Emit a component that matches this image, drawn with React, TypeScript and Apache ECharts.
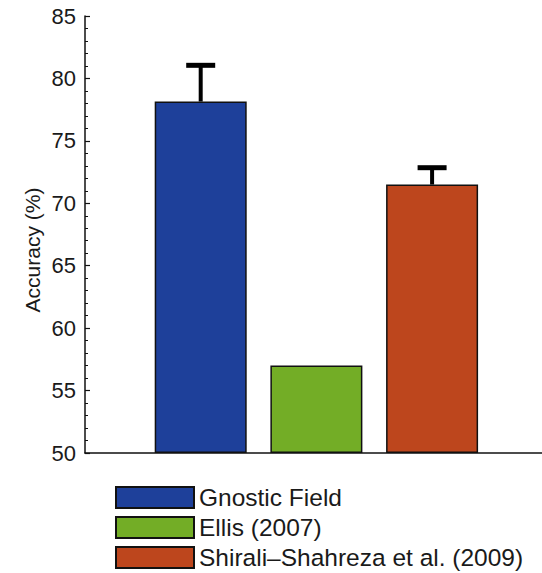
import React, { useEffect, useRef } from "react";
import * as echarts from "echarts";

const methods = ["Gnostic Field", "Ellis (2007)", "Shirali–Shahreza et al. (2009)"];
const positions = [1, 2, 3];
const accuracy = [78.15, 57.0, 71.5];
const errorUpper = [81.05, null, 72.85];
const colors = ["#1e409a", "#73ad26", "#bd461d"];
const yTicks = { min: 50, max: 85, interval: 5 };

export default function App() {
  const ref = useRef<HTMLDivElement>(null);
  useEffect(() => {
    if (!ref.current) return;
    const chart = echarts.init(ref.current, null, { renderer: "svg" });
    const font = "'Liberation Sans', Arial, Helvetica, sans-serif";
    const barSeries = methods.map((name, i) => ({
      name,
      type: "bar",
      data: [[positions[i], accuracy[i]]],
      barWidth: 92,
      barGap: "-100%",
      itemStyle: { color: colors[i], borderColor: "#111", borderWidth: 1.5 },
      z: 2,
    }));
    const errData = positions
      .map((p, i) => (errorUpper[i] == null ? null : [p, accuracy[i], errorUpper[i]]))
      .filter((d) => d !== null);
    chart.setOption({
      animation: false,
      grid: { left: 85, top: 16, bottom: 120, right: 0, containLabel: false },
      legend: {
        data: methods,
        orient: "vertical",
        left: 115,
        top: 485,
        padding: 0,
        itemWidth: 78,
        itemHeight: 21,
        itemGap: 5,
        icon: "rect",
        textStyle: { fontSize: 24.5, color: "#1a1a1a", fontFamily: font },
        selectedMode: false,
      },
      xAxis: {
        type: "value",
        min: 0,
        max: 3.95,
        axisLine: { show: true, lineStyle: { color: "#111", width: 1.5 } },
        axisTick: { show: false },
        axisLabel: { show: false },
        splitLine: { show: false },
      },
      yAxis: {
        type: "value",
        min: yTicks.min,
        max: yTicks.max,
        interval: yTicks.interval,
        startValue: 50,
        axisLine: { show: true, lineStyle: { color: "#111", width: 1.5 } },
        axisTick: { show: true, inside: true, length: 5, lineStyle: { color: "#111", width: 1.2 } },
        minorTick: { show: true, splitNumber: 5, length: 3, lineStyle: { color: "#111", width: 1 } },
        axisLabel: { fontSize: 22, color: "#1a1a1a", margin: 9, fontFamily: font },
        splitLine: { show: false },
      },
      graphic: [
        {
          type: "text",
          x: 32,
          y: 250,
          rotation: Math.PI / 2,
          style: {
            text: "Accuracy (%)",
            fontSize: 21,
            fontFamily: font,
            fill: "#1a1a1a",
            textAlign: "center",
            textVerticalAlign: "middle",
          },
        },
      ],
      series: [
        ...barSeries,
        {
          type: "custom",
          name: "err",
          data: errData,
          encode: { x: 0, y: [1, 2] },
          z: 3,
          renderItem: (params: any, api: any) => {
            const x = api.value(0);
            const base = api.coord([x, api.value(1)]);
            const top = api.coord([x, api.value(2)]);
            const capHalf = 14.5;
            return {
              type: "group",
              children: [
                {
                  type: "line",
                  shape: { x1: base[0], y1: base[1], x2: top[0], y2: top[1] },
                  style: { stroke: "#000", lineWidth: 4 },
                },
                {
                  type: "line",
                  shape: { x1: top[0] - capHalf, y1: top[1], x2: top[0] + capHalf, y2: top[1] },
                  style: { stroke: "#000", lineWidth: 5 },
                },
              ],
            };
          },
        },
      ],
    });
    return () => chart.dispose();
  }, []);
  return (
    <div
      ref={ref}
      style={{ position: "fixed", left: 0, top: 0, width: 542, height: 573, background: "#fff" }}
    />
  );
}
